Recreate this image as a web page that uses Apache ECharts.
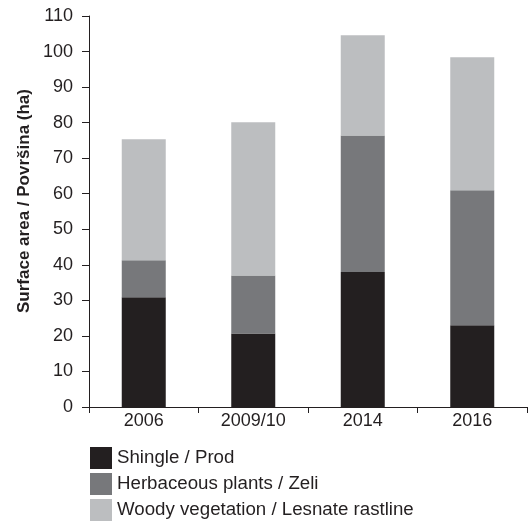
<!DOCTYPE html>
<html>
<head>
<meta charset="utf-8">
<script src="https://cdn.jsdelivr.net/npm/echarts@6/dist/echarts.min.js"></script>
<style>
  html, body { margin: 0; padding: 0; background: #fff; }
  #chart { width: 532px; height: 525px; }
</style>
</head>
<body>
<div id="chart"></div>
<script>
  // categories and stacked values (ha)
  var years = ['2006', '2009/10', '2014', '2016'];
  var shingle = [30.9, 20.7, 38.0, 23.0];
  var herbaceous = [10.4, 16.3, 38.4, 38.0];
  var woody = [34.0, 43.1, 28.2, 37.4];
  var seriesNames = ['Shingle / Prod', 'Herbaceous plants / Zeli', 'Woody vegetation / Lesnate rastline'];
  var yTitle = 'Surface area / Površina (ha)';
  var colors = ['#231f20', '#77787b', '#bcbec0'];

  var chart = echarts.init(document.getElementById('chart'));
  var font = 'Liberation Sans, Arial, sans-serif';

  chart.setOption({
    animation: false,
    textStyle: { fontFamily: font },
    grid: { left: 89, right: 5, top: 16, bottom: 118 },
    // y title drawn separately so it can sit a bit above the axis middle
    graphic: [{
      type: 'text',
      x: 24,
      y: 201,
      rotation: Math.PI / 2,
      style: {
        text: yTitle,
        font: 'bold 17px Liberation Sans, Arial, sans-serif',
        fill: '#231f20',
        align: 'center',
        verticalAlign: 'middle'
      }
    }],
    legend: {
      orient: 'vertical',
      left: 90,
      top: 447,
      height: 90,
      padding: 0,
      itemWidth: 22,
      itemHeight: 22,
      itemGap: 4,
      icon: 'rect',
      textStyle: { fontSize: 18.7, color: '#231f20', fontFamily: font },
      data: seriesNames
    },
    xAxis: {
      type: 'category',
      data: years,
      axisLine: { lineStyle: { color: '#231f20', width: 1 } },
      axisTick: { show: true, length: 6, lineStyle: { color: '#231f20' } },
      axisLabel: { fontSize: 18, color: '#231f20', margin: 5, fontFamily: font }
    },
    yAxis: {
      type: 'value',
      min: 0,
      max: 110,
      interval: 10,
      axisLine: { show: true, lineStyle: { color: '#231f20', width: 1 } },
      axisTick: { show: true, length: 7, lineStyle: { color: '#231f20' } },
      axisLabel: { fontSize: 18, color: '#231f20', margin: 16, fontFamily: font },
      splitLine: { show: false }
    },
    series: [
      { name: seriesNames[0], type: 'bar', stack: 'a', data: shingle, barWidth: 44, itemStyle: { color: colors[0] } },
      { name: seriesNames[1], type: 'bar', stack: 'a', data: herbaceous, barWidth: 44, itemStyle: { color: colors[1] } },
      { name: seriesNames[2], type: 'bar', stack: 'a', data: woody, barWidth: 44, itemStyle: { color: colors[2] } }
    ]
  });
</script>
</body>
</html>
